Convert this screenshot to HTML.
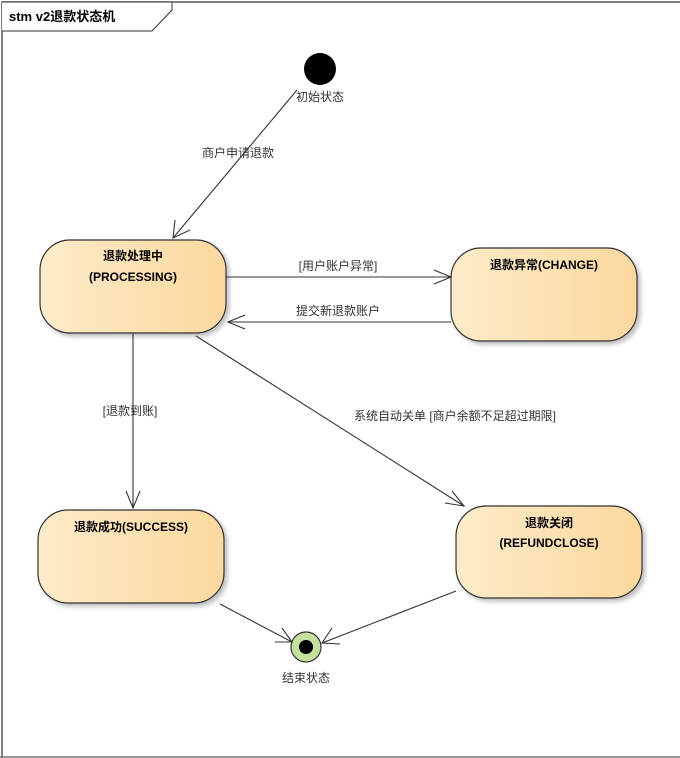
<!DOCTYPE html>
<html><head><meta charset="utf-8"><style>
html,body{margin:0;padding:0;background:#fff;}
svg{display:block;font-family:"Liberation Sans","Noto Sans CJK SC",sans-serif;}
</style></head><body>
<svg width="680" height="758" viewBox="0 0 680 758" xmlns="http://www.w3.org/2000/svg">
<defs>
<linearGradient id="g" x1="0" x2="1" y1="0" y2="0">
<stop offset="0" stop-color="#fdebc9"/><stop offset="1" stop-color="#fbd89e"/>
</linearGradient>
<filter id="s" x="-10%" y="-10%" width="130%" height="130%"><feDropShadow dx="3" dy="3" stdDeviation="2" flood-color="#000" flood-opacity="0.25"/></filter>
</defs>
<path d="M2,758 L2,2 L680,2" fill="none" stroke="#555" stroke-width="1.5"/>
<line x1="0" y1="757" x2="680" y2="757" stroke="#777" stroke-width="1.5"/>
<path d="M2,2 L172,2 L172,10 L152,31 L2,31" fill="#fff" stroke="#333" stroke-width="1"/>
<text x="9" y="21" font-size="13" font-weight="bold" fill="#000">stm v2退款状态机</text>

<g filter="url(#s)" stroke="#333" stroke-width="1.2" fill="url(#g)">
<rect x="40" y="240" width="186" height="93" rx="30"/>
<rect x="451" y="248" width="186" height="93" rx="30"/>
<rect x="38" y="510" width="186" height="93" rx="30"/>
<rect x="456" y="506" width="186" height="92" rx="30"/>
</g>
<g font-size="12" font-weight="bold" text-anchor="middle" fill="#000">
<text x="133" y="260">退款处理中</text>
<text x="133" y="281">(PROCESSING)</text>
<text x="544" y="269">退款异常(CHANGE)</text>
<text x="131" y="531">退款成功(SUCCESS)</text>
<text x="549" y="527">退款关闭</text>
<text x="549" y="547">(REFUNDCLOSE)</text>
</g>

<circle cx="320" cy="69" r="16" fill="#000"/>
<circle cx="306" cy="647" r="15" fill="#c6e0a0" stroke="#333" stroke-width="1.2"/>
<circle cx="306" cy="647" r="7" fill="#000"/>

<g font-size="12" fill="#333" text-anchor="middle">
<text x="320" y="101">初始状态</text>
<text x="306" y="682">结束状态</text>
<text x="238" y="157">商户申请退款</text>
<text x="338" y="270">[用户账户异常]</text>
<text x="338" y="315">提交新退款账户</text>
<text x="130" y="415">[退款到账]</text>
<text x="455" y="420">系统自动关单 [商户余额不足超过期限]</text>
</g>

<g stroke="#333" stroke-width="1.1" fill="none">
<line x1="297" y1="90" x2="173" y2="238"/>
<path d="M175,220 L173,238 L190,230"/>
<line x1="226" y1="277" x2="451" y2="277"/>
<path d="M434,270 L451,277 L434,284"/>
<line x1="451" y1="322" x2="228" y2="322"/>
<path d="M245,315 L228,322 L245,329"/>
<line x1="133" y1="333" x2="133" y2="508"/>
<path d="M126,491 L133,508 L140,491"/>
<line x1="196" y1="336" x2="464" y2="506"/>
<path d="M445,503 L464,506 L452,491"/>
<line x1="220" y1="604" x2="292" y2="642"/>
<path d="M275,642 L292,642 L282,628"/>
<line x1="456" y1="591" x2="322" y2="643"/>
<path d="M332,628 L322,643 L340,644"/>
</g>
</svg>
</body></html>
